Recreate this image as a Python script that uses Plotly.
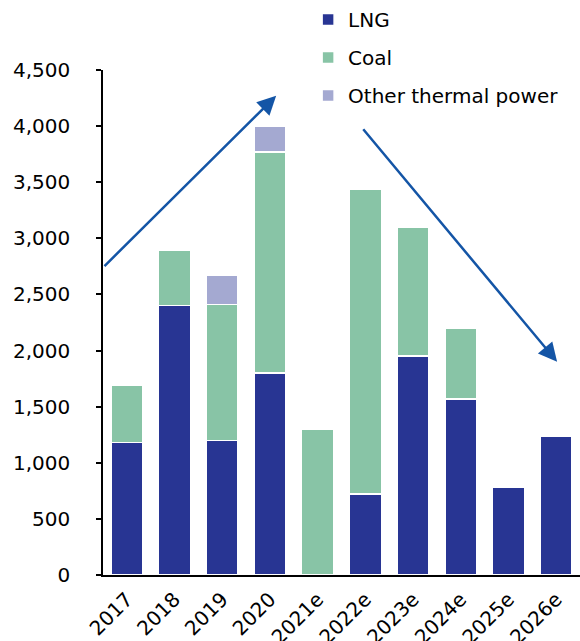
import plotly.graph_objects as go

years = ["2017", "2018", "2019", "2020", "2021e", "2022e", "2023e", "2024e", "2025e", "2026e"]
lng = [1180, 2400, 1200, 1800, 0, 720, 1950, 1570, 780, 1240]
coal = [510, 490, 1210, 1970, 1300, 2720, 1150, 630, 0, 0]
other = [0, 0, 260, 225, 0, 0, 0, 0, 0, 0]
y_ticks = [0, 500, 1000, 1500, 2000, 2500, 3000, 3500, 4000, 4500]

# trend arrows (category index, value)
up_arrow = {"start": (-0.5, 2740), "end": (3.13, 4270)}
down_arrow = {"start": (4.93, 3985), "end": (9.02, 1900)}

c_lng = "#283593"
c_coal = "#88C4A6"
c_other = "#A4A9D1"
arrow_color = "#1455A6"
font = "DejaVu Sans, Arial, sans-serif"

fig = go.Figure()
for name, vals, col in [("LNG", lng, c_lng), ("Coal", coal, c_coal), ("Other thermal power", other, c_other)]:
    fig.add_trace(go.Bar(
        x=years, y=vals, name=name, legendgroup=name,
        marker=dict(color=col, line=dict(color="white", width=1.5)),
    ))

for arr in (up_arrow, down_arrow):
    (x0, y0), (x1, y1) = arr["start"], arr["end"]
    fig.add_annotation(
        x=x1, y=y1, ax=x0, ay=y0, xref="x", yref="y", axref="x", ayref="y",
        showarrow=True, arrowhead=2, arrowsize=1.5, arrowwidth=2.5,
        arrowcolor=arrow_color, text="",
    )

fig.update_layout(
    barmode="stack",
    bargap=0.33,
    width=580, height=641,
    margin=dict(l=103, r=0, t=70, b=66, autoexpand=False),
    paper_bgcolor="white", plot_bgcolor="white",
    font=dict(family=font, size=20, color="black"),
    showlegend=True,
    legend=dict(
        x=0.43, y=1.1386, xanchor="left", yanchor="top",
        traceorder="grouped", tracegroupgap=9,
        font=dict(family=font, size=20, color="black"),
        bgcolor="rgba(0,0,0,0)", itemwidth=30,
    ),
    xaxis=dict(
        type="category", tickangle=-45, showline=True, linecolor="black",
        linewidth=1.5, ticks="", tickfont=dict(size=20),
        automargin=False, range=[-0.5, 9.5], ticklabelstandoff=3,
    ),
    yaxis=dict(
        range=[0, 4500], tickvals=y_ticks, tickformat=",d",
        showline=True, linecolor="black", linewidth=1.5,
        ticks="outside", ticklen=5, tickcolor="black", tickwidth=1.5,
        showgrid=False, zeroline=False, tickfont=dict(size=20),
        ticklabelstandoff=22, automargin=False,
    ),
)

fig.write_html("out.html", config={"displayModeBar": False},
               post_script="document.body.style.margin='0';")
